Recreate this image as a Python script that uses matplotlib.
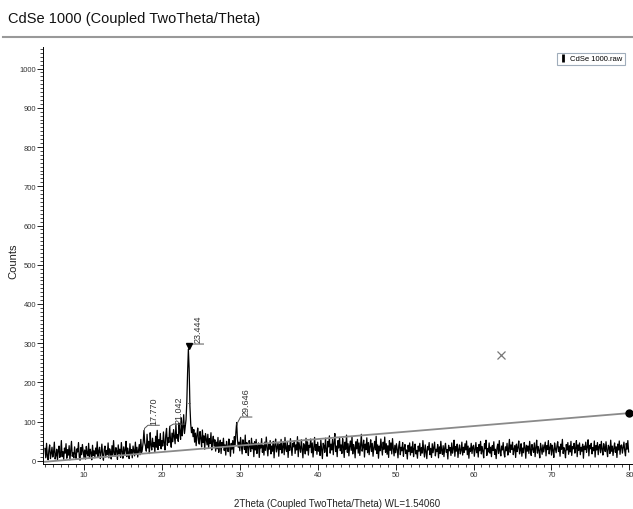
"""
cdse_xrd_plot.py
"""
import numpy as np
import matplotlib.pyplot as plt
from matplotlib.lines import Line2D
from matplotlib.ticker import MultipleLocator

# ------------------------Data (0.1 deg step)-----------------
start_angle = 5.0
step = 0.1
counts_05_20 = [32, 8, 45, 12, 3, 28, 41, 6, 19, 35,
                10, 22, 48, 5, 14, 30, 2, 26, 38, 9,
                17, 52, 11, 24, 4, 33, 20, 44, 7, 29,
                15, 39, 3, 27, 50, 12, 21, 8, 36, 18,
                6, 31, 23, 47, 10, 2, 34, 16, 42, 25,
                9, 28, 5, 37, 19, 13, 45, 7, 30, 22,
                3, 40, 14, 26, 8, 33, 18, 49, 11, 24,
                35, 6, 21, 43, 15, 2, 29, 38, 10, 27,
                17, 46, 8, 31, 23, 5, 39, 14, 52, 20,
                12, 34, 26, 4, 41, 18, 30, 9, 47, 24,
                7, 36, 15, 28, 50, 11, 33, 21, 6, 44,
                19, 29, 8, 38, 25, 13, 48, 17, 35, 10,
                27, 42, 16, 55, 22, 31, 48, 78, 46, 38,
                25, 68, 33, 50, 19, 72, 41, 28, 58, 36,
                47, 22, 63, 35, 78, 29, 54, 40, 70, 31]
counts_20_35 = [52, 38, 74, 45, 28, 66, 83, 40, 59, 47,
                88, 56, 35, 71, 49, 80, 62, 44, 92, 58,
                67, 50, 96, 73, 55, 110, 64, 85, 118, 70,
                88, 105, 150, 225, 285, 235, 140, 95, 72, 86,
                62, 80, 48, 71, 39, 66, 84, 52, 43, 75,
                58, 36, 79, 47, 64, 30, 70, 55, 41, 68,
                33, 57, 45, 72, 28, 50, 63, 38, 54, 25,
                48, 31, 60, 22, 44, 53, 19, 47, 36, 58,
                27, 41, 15, 50, 34, 24, 56, 38, 12, 45,
                30, 52, 20, 62, 40, 74, 98, 55, 35, 48,
                26, 60, 38, 18, 54, 43, 29, 66, 21, 47,
                35, 14, 52, 40, 24, 58, 31, 45, 11, 49,
                28, 55, 19, 37, 46, 9, 42, 33, 57, 22,
                40, 15, 48, 27, 61, 34, 13, 44, 30, 52,
                18, 38, 25, 50, 8, 41, 56, 23, 35, 46]
counts_35_50 = [12, 43, 29, 55, 20, 37, 48, 16, 60, 31,
                24, 50, 9, 39, 27, 57, 33, 14, 45, 36,
                52, 19, 41, 28, 62, 11, 47, 34, 22, 54,
                30, 8, 44, 38, 18, 58, 26, 49, 15, 40,
                35, 56, 21, 46, 10, 33, 60, 27, 42, 17,
                48, 25, 37, 14, 53, 31, 6, 45, 39, 22,
                58, 29, 12, 50, 36, 64, 20, 43, 28, 55,
                16, 47, 70, 24, 38, 11, 52, 33, 60, 26,
                41, 19, 57, 35, 9, 48, 30, 66, 22, 44,
                13, 38, 51, 27, 62, 18, 42, 34, 8, 49,
                31, 55, 20, 46, 14, 39, 68, 25, 36, 53,
                10, 43, 29, 59, 21, 47, 16, 37, 54, 24,
                45, 12, 33, 50, 28, 63, 19, 41, 7, 38,
                26, 56, 35, 15, 48, 30, 61, 22, 44, 17,
                39, 9, 52, 27, 46, 18, 57, 32, 13, 40]
counts_50_65 = [21, 44, 30, 8, 38, 50, 16, 35, 26, 47,
                12, 33, 42, 19, 28, 5, 40, 24, 46, 15,
                36, 22, 49, 11, 31, 43, 18, 27, 7, 38,
                25, 45, 14, 34, 20, 52, 29, 10, 41, 23,
                6, 37, 28, 47, 16, 32, 9, 44, 21, 35,
                48, 13, 30, 24, 42, 8, 36, 19, 50, 27,
                17, 39, 11, 33, 45, 22, 29, 5, 40, 26,
                34, 14, 46, 20, 31, 53, 12, 37, 25, 43,
                9, 30, 41, 18, 27, 48, 15, 35, 22, 44,
                28, 51, 16, 38, 7, 33, 24, 45, 19, 36,
                40, 12, 29, 47, 21, 34, 10, 42, 26, 50,
                18, 37, 25, 8, 44, 31, 53, 14, 32, 23,
                46, 20, 35, 11, 39, 27, 49, 17, 30, 6,
                33, 43, 19, 52, 24, 13, 38, 28, 47, 21,
                10, 36, 26, 45, 15, 32, 55, 22, 41, 29]
counts_65_80 = [48, 16, 30, 39, 9, 43, 24, 35, 51, 18,
                27, 44, 12, 33, 21, 47, 36, 7, 40, 25,
                38, 19, 50, 28, 14, 42, 31, 22, 46, 11,
                34, 53, 20, 37, 26, 8, 45, 30, 17, 41,
                23, 35, 48, 13, 39, 29, 52, 18, 33, 44,
                15, 40, 27, 9, 46, 32, 21, 38, 49, 24,
                36, 12, 43, 30, 55, 19, 34, 26, 8, 42,
                28, 47, 17, 39, 23, 50, 14, 37, 31, 45,
                20, 33, 52, 11, 41, 27, 46, 16, 35, 25,
                43, 7, 38, 29, 48, 22, 36, 54, 13, 40,
                31, 45, 18, 34, 26, 51, 10, 39, 28, 47,
                16, 37, 42, 21, 50, 30, 15, 44, 33, 24,
                49, 27, 11, 40, 35, 19, 53, 25, 38, 14,
                32, 46, 22, 36, 9, 43, 28, 51, 17, 39,
                41, 20, 34, 48, 26, 13, 45, 30, 52, 23]

# peak labels: position, top of peak, height of leader
peak_pos = [17.770, 21.042, 23.444, 29.646]
peak_top = [80, 86, 287, 92]
peak_lead = [91, 94, 298, 112]

# background line and cross marker
bg_x = [5.0, 80.0]
bg_y = [-2, 122]
cross_x, cross_y = 63.5, 270
# ------------------------------------------------------------------------------
counts = np.array(counts_05_20 + counts_20_35 + counts_35_50 + counts_50_65 + counts_65_80)
angle = start_angle + step*np.arange(len(counts))

plt.rcParams['font.family'] = ['Liberation Sans', 'DejaVu Sans']

fig = plt.figure(figsize=(6.33, 5.10), dpi=100)
ax = fig.add_axes([0.068, 0.088, 0.930, 0.818])

ax.plot(angle, counts, color='black', lw=0.9, label='CdSe 1000.raw')
ax.plot(bg_x, bg_y, color='#8a8a8a', lw=1.3)
ax.plot(bg_x[1], bg_y[1], 'o', color='black', ms=5, clip_on=False)
ax.plot(cross_x, cross_y, 'x', color='#777777', ms=6, mew=0.9)

# peak labels with leader lines
for p, t, l in zip(peak_pos, peak_top, peak_lead):
    ax.plot([p, p, p+0.45, p+1.9], [t, t+3, l, l], color='#555555', lw=0.7)
    ax.text(p+1.2, l+4, '%.3f' % p, rotation=90, ha='center', va='bottom',
            fontsize=6.5, color='#333333')
ax.plot(23.42, 292, 'v', color='black', ms=4)
ax.plot([23.3, 23.6], [147, 147], color='#555555', lw=0.6)

ax.set_xlim(4.75, 80.3)
ax.set_ylim(-8, 1055)
ax.xaxis.set_major_locator(MultipleLocator(10))
ax.xaxis.set_minor_locator(MultipleLocator(1))
ax.yaxis.set_major_locator(MultipleLocator(100))
ax.yaxis.set_minor_locator(MultipleLocator(10))
ax.tick_params(which='major', length=4, width=0.6, labelsize=5.5, labelcolor='#333333', pad=1)
ax.tick_params(which='minor', length=2, width=0.5)
for s in ['top', 'right']:
    ax.spines[s].set_visible(False)
for s in ['left', 'bottom']:
    ax.spines[s].set_linewidth(0.7)

fig.text(0.021, 0.487, 'Counts', rotation=90, fontsize=8, color='#222222',
         ha='center', va='center')
ax.set_xlabel('2Theta (Coupled TwoTheta/Theta) WL=1.54060', fontsize=7, color='#222222', labelpad=14)

handle = Line2D([], [], color='black', marker='|', linestyle='None', ms=6, mew=2)
leg = ax.legend(handles=[handle], labels=['CdSe 1000.raw'], loc='upper right',
                bbox_to_anchor=(0.995, 0.995), fontsize=5.5, fancybox=False,
                edgecolor='#8899aa', borderpad=0.3, handlelength=1.0, handletextpad=0.5)
leg.get_frame().set_linewidth(0.8)

fig.text(0.013, 0.962, 'CdSe 1000 (Coupled TwoTheta/Theta)', fontsize=10.5,
         va='center', color='#111111')
fig.add_artist(Line2D([0.005, 1.0], [0.925, 0.925], color='#999999', lw=1.5))

plt.savefig('out.png', dpi=100)
